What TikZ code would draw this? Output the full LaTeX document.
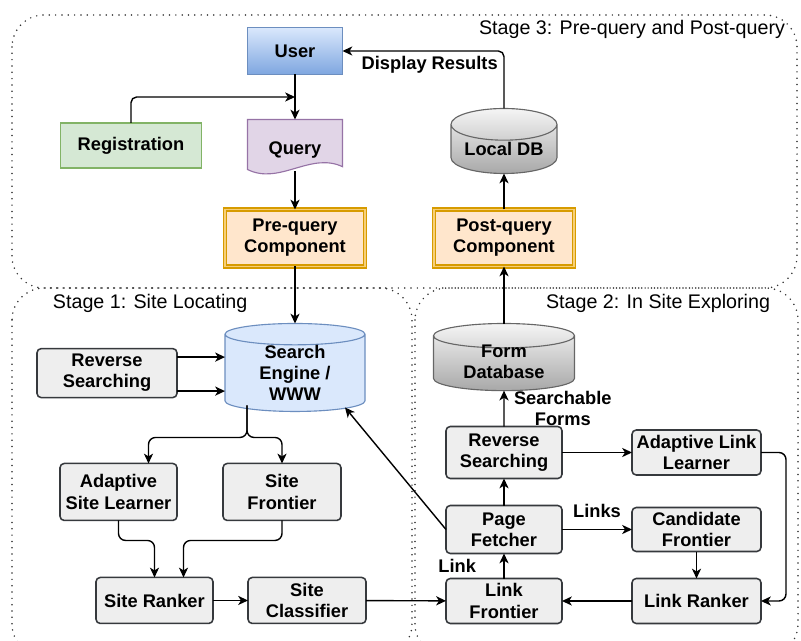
\documentclass[tikz,border=0pt]{standalone}
\usepackage{fontspec}
\setmainfont{Liberation Sans}
\usetikzlibrary{arrows.meta, backgrounds, calc, positioning, shapes.geometric}

\definecolor{userfill}{HTML}{DAE8FC}
\definecolor{userdark}{HTML}{7EA6E0}
\definecolor{userline}{HTML}{6C8EBF}
\definecolor{regfill}{HTML}{D5E8D4}
\definecolor{regline}{HTML}{82B366}
\definecolor{queryfill}{HTML}{E1D5E7}
\definecolor{queryline}{HTML}{9673A6}
\definecolor{compfill}{HTML}{FFE6CC}
\definecolor{compline}{HTML}{D79B00}
\definecolor{compgap}{HTML}{F7CF78}
\definecolor{boxfill}{HTML}{EEEEEE}
\definecolor{boxline}{HTML}{36393D}
\definecolor{dbtop}{HTML}{F5F5F5}
\definecolor{dbbottom}{HTML}{A8A8A8}
\definecolor{dbline}{HTML}{666666}

\begin{document}
\begin{tikzpicture}[node distance=1.2cm, font=\fontsize{13}{15}\selectfont\bfseries]
\tikzset{every node/.style={align=center, inner sep=0mm, outer sep=0mm}}

\tikzstyle{box}=[rectangle, rounded corners=3pt, draw=boxline, fill=boxfill, line width=1.1pt, minimum width=2.925cm, minimum height=1.425cm]
\tikzstyle{userbox}=[rectangle, draw=userline, top color=userfill, bottom color=userdark, line width=0.8pt, minimum width=2.375cm, minimum height=1.175cm]
\tikzstyle{regbox}=[rectangle, draw=regline, fill=regfill, line width=1pt, minimum width=3.525cm, minimum height=1.125cm]
\tikzstyle{doc}=[rectangle, minimum width=2.375cm, minimum height=1.3cm, text height=0.55cm]
\tikzstyle{comp}=[rectangle, draw=compline, double=compgap, double distance=1.2pt, line width=0.9pt, fill=compfill, minimum width=3.5cm, minimum height=1.425cm]
\tikzstyle{db}=[cylinder, shape border rotate=90, line width=0.8pt]
\tikzstyle{blue db}=[draw=userline, fill=userfill]
\tikzstyle{grey db}=[draw=dbline, top color=dbtop, bottom color=dbbottom]
\tikzstyle{stage}=[draw=black!80, line width=1.2pt, dash pattern=on 0pt off 4.5pt, line cap=round, rounded corners=0.8cm]
\tikzstyle{note}=[font=\fontsize{14}{16}\selectfont]
\tikzstyle{post}=[-{Stealth[length=7pt, width=6.5pt, inset=2pt]}, line width=1pt]

\clip (0,0) rectangle (20.025,-16.025);

% stage frames
\draw[stage] (0.3,-0.375) rectangle (19.925,-7.2);
\draw[stage] (0.3,-7.2) rectangle (10.3,-16.4);
\draw[stage] (10.375,-7.2) rectangle (19.95,-16.4);
\node[note, anchor=east] (stage3 label) at (19.625,-0.725) {Stage 3: Pre-query and Post-query};
\node[note, anchor=west] (stage1 label) at (1.325,-7.575) {Stage 1: Site Locating};
\node[note, anchor=east] (stage2 label) at (19.25,-7.575) {Stage 2: In Site Exploring};

% stage 3
\node[userbox] (user) at (7.375,-1.275) {User};
\node[doc, below=1.125cm of user] (query) {Query};
\node[regbox, left=1.15cm of query] (reg) {Registration};
\node[comp, below=0.95cm of query] (pre) {Pre-query\\Component};
\node[comp, right=1.725cm of pre] (postq) {Post-query\\Component};
\node[db, grey db, above=0.9cm of postq, aspect=0.4, minimum width=2.65cm, minimum height=1.625cm] (local db) {Local DB};

\begin{scope}[on background layer]
    \draw[draw=queryline, fill=queryfill, line width=0.8pt] (query.north west) -- (query.north east)
        -- ([yshift=0.12cm]query.south east)
        .. controls ([xshift=-0.8cm, yshift=0.5cm]query.south east) and ([xshift=0.8cm, yshift=-0.35cm]query.south west)
        .. ([yshift=0.05cm]query.south west) -- cycle;
\end{scope}

% stage 1
\node[db, blue db, below=1.425cm of pre, aspect=0.3, minimum width=3.5cm, minimum height=2.05cm] (search) {Search\\Engine /\\WWW};
\node[box, left=1.2cm of search, minimum width=3.5cm, minimum height=1.225cm] (rev site) {Reverse\\Searching};
\node[box, below=1.3cm of search, xshift=-0.325cm, minimum width=2.95cm] (site frontier) {Site\\Frontier};
\node[box, left=1.15cm of site frontier] (site learner) {Adaptive\\Site Learner};
\node[box, below=1.425cm of site learner, xshift=0.9cm, minimum height=1.15cm] (site ranker) {Site Ranker};
\node[box, right=0.875cm of site ranker, minimum width=2.95cm, minimum height=1.15cm] (site clf) {Site\\Classifier};

% stage 2
\node[db, grey db, below=1.425cm of postq, aspect=0.3, minimum width=3.525cm, minimum height=1.375cm, text height=0.75cm, text depth=-0.2cm] (form db) {Form\\Database};
\node[box, below=4cm of postq, minimum width=2.9cm, minimum height=1.3cm] (rev link) {Reverse\\Searching};
\node[box, below=0.675cm of rev link, minimum width=2.9cm, minimum height=1.2cm] (fetcher) {Page\\Fetcher};
\node[box, below=0.625cm of fetcher, minimum width=2.9cm, minimum height=1.125cm] (link frontier) {Link\\Frontier};
\node[box, right=1.75cm of rev link, minimum width=3.225cm, minimum height=1.125cm] (link learner) {Adaptive Link\\Learner};
\node[box, right=1.75cm of fetcher, minimum width=3.225cm, minimum height=1.1cm] (cand frontier) {Candidate\\Frontier};
\node[box, right=1.75cm of link frontier, minimum width=3.225cm, minimum height=1.125cm] (link ranker) {Link Ranker};

% connectors
\coordinate (join) at ($(user.south)!0.5!(query.north)$);
\path[post] (user) edge (query);
\draw[post, rounded corners=4pt] (reg.north) |- (join);
\path[post] (query) edge (pre);
\path[post] (pre) edge (search);
\path[post] (postq) edge (local db);
\path[post] (form db) edge (postq);
\draw[post, rounded corners=4pt] (local db.north) |- node[pos=0.73, below=0.12cm] {Display Results} (user.east);

\draw[post] ([yshift=0.4cm]rev site.east) -- ([yshift=0.4cm]rev site.east -| search.west);
\draw[post] ([yshift=-0.45cm]rev site.east) -- ([yshift=-0.45cm]rev site.east -| search.west);
\coordinate (split) at ($(search.south)+(-1.2,-0.65)$);
\draw[post, rounded corners=5pt] ([shift={(-1.2,0.15)}]search.south) -- (split) -| ([xshift=0.75cm]site learner.north);
\draw[post, rounded corners=5pt] ([shift={(-1.2,0.15)}]search.south) -- (split) -| (site frontier.north);
\draw[post, rounded corners=5pt] (site learner.south) -- ++(0,-0.5) -| (site ranker.north);
\draw[post, rounded corners=5pt] (site frontier.south) -- ++(0,-0.5) -| ([xshift=0.725cm]site ranker.north);
\path[post] (site ranker) edge (site clf);
\path[post] (site clf) edge (link frontier);

\path[post] (link frontier) edge node[left=0.7cm] {Link} (fetcher);
\path[post] (fetcher) edge (rev link);
\path[post] (rev link) edge node[right=0.25cm] {Searchable\\Forms} (form db);
\path[post] (rev link) edge (link learner);
\path[post] (fetcher) edge node[above=0.3cm] {Links} (cand frontier);
\path[post] (cand frontier) edge (link ranker);
\path[post] (link ranker) edge (link frontier);
\draw[post, rounded corners=5pt] (link learner.east) -- ++(0.625,0) |- (link ranker.east);
\draw[post] (fetcher.west) -- ([shift={(1.25,0.1)}]search.south);

\end{tikzpicture}
\end{document}
